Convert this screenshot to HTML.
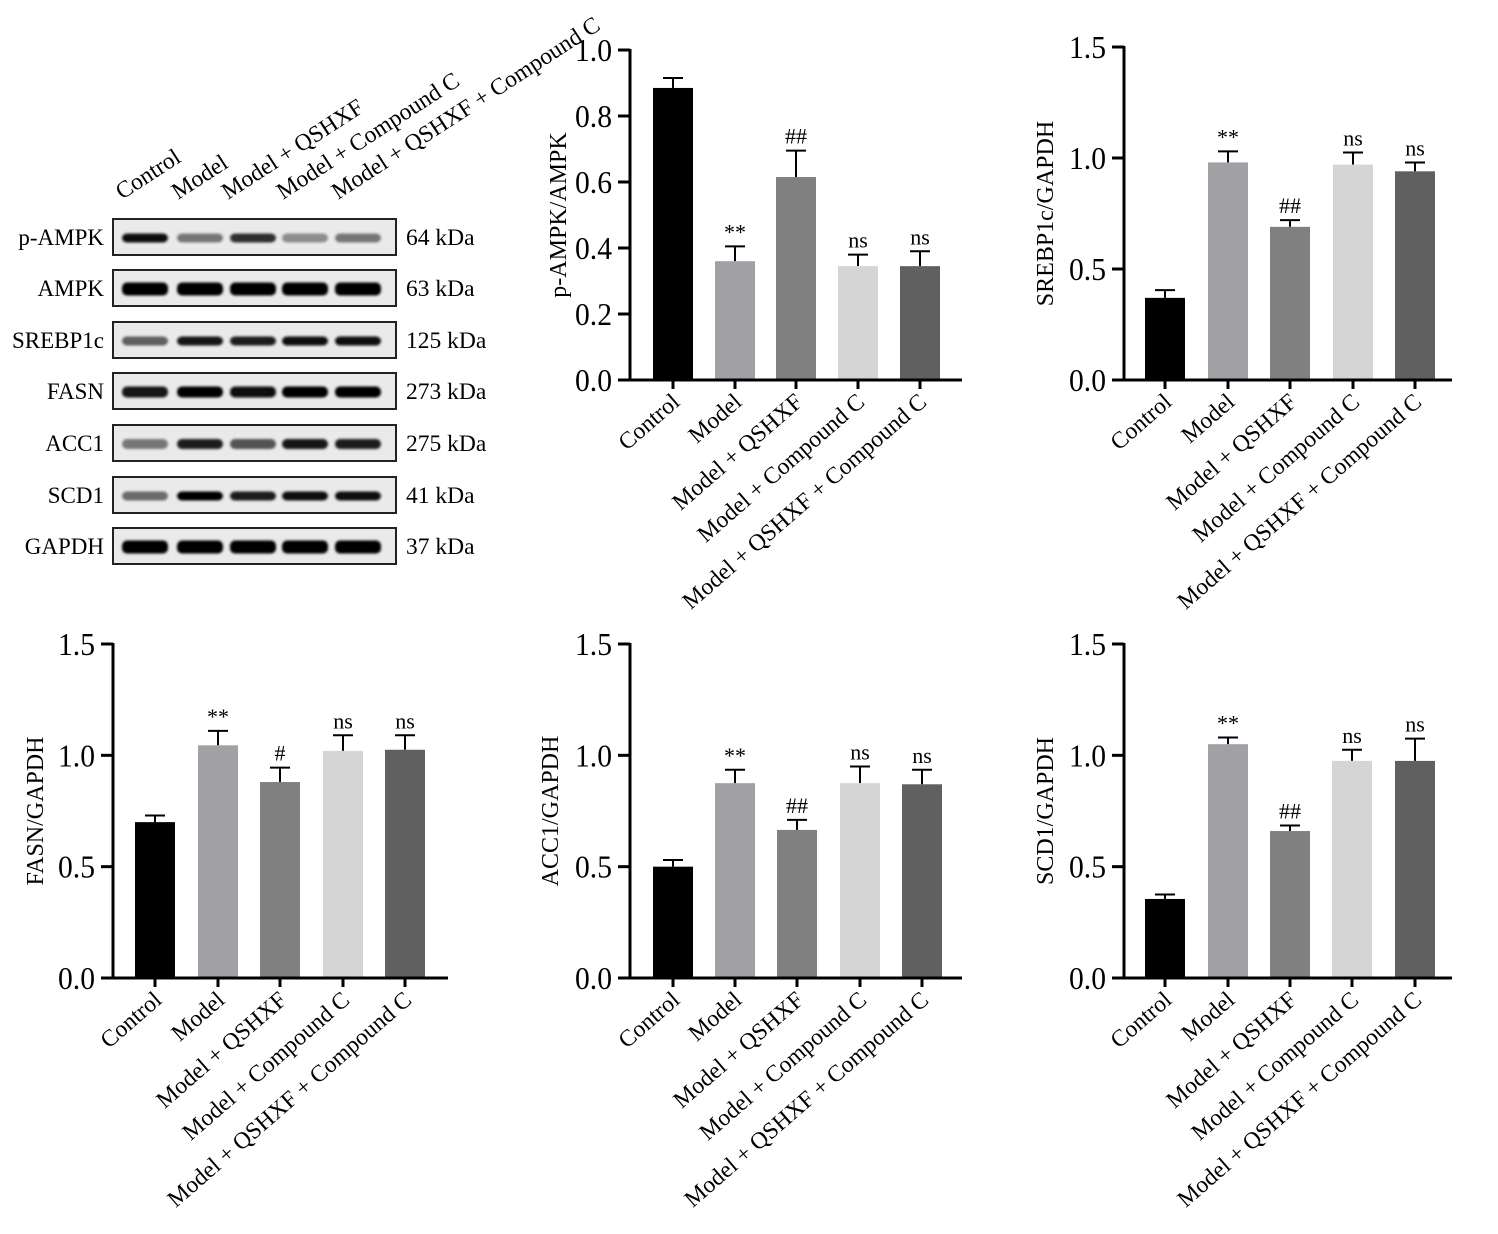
<!DOCTYPE html>
<html><head><meta charset="utf-8"><style>
html,body{margin:0;padding:0;background:#fff;}
svg{display:block;font-family:"Liberation Serif",serif;}
</style></head><body>
<svg id="s" width="1498" height="1234" viewBox="0 0 1498 1234" xmlns="http://www.w3.org/2000/svg">
<defs>
<filter id="bl" x="-20%" y="-50%" width="140%" height="200%"><feGaussianBlur stdDeviation="1.3"/></filter>
</defs>
<g id="wb"></g>
<g id="ch"></g>
</svg>
<script>
var NS="http://www.w3.org/2000/svg";
function el(p,t,a,txt){var e=document.createElementNS(NS,t);for(var k in a)e.setAttribute(k,a[k]);if(txt!==undefined)e.textContent=txt;p.appendChild(e);return e;}
var wb=document.getElementById('wb'), ch=document.getElementById('ch');
var groups=["Control","Model","Model + QSHXF","Model + Compound C","Model + QSHXF + Compound C"];
var hx=[122,178,228,283,338];
for(var i=0;i<5;i++){el(wb,'text',{x:hx[i],y:200,'font-size':23.5,transform:'rotate(-33 '+hx[i]+' 200)'},groups[i]);}
var rows=[["p-AMPK","64 kDa",219,[0.95,0.5,0.8,0.4,0.5],9],["AMPK","63 kDa",270,[1,1,1,1,1],13],["SREBP1c","125 kDa",322,[0.6,0.92,0.88,0.95,0.95],9],["FASN","273 kDa",373,[0.92,1,0.95,1,1],11],["ACC1","275 kDa",425,[0.5,0.88,0.65,0.92,0.88],10],["SCD1","41 kDa",477,[0.55,1,0.88,0.95,0.95],9],["GAPDH","37 kDa",528,[1,1,1,1,1],13]];
var lx=[145,200,253,305,358];
rows.forEach(function(r){
 var y=r[2];
 el(wb,'rect',{x:113,y:y,width:283,height:36,fill:'#eaeaea',stroke:'#222','stroke-width':2});
 for(var i=0;i<5;i++){
  var g=Math.round(235*(1-r[3][i]));
  el(wb,'rect',{x:lx[i]-23,y:y+19-r[4]/2,width:46,height:r[4],rx:5,fill:'rgb('+g+','+g+','+g+')',filter:'url(#bl)'});
 }
 el(wb,'text',{x:104,y:y+26,'font-size':23,'text-anchor':'end'},r[0]);
 el(wb,'text',{x:406,y:y+26,'font-size':23.5},r[1]);
});
var cols=["#000000","#a0a0a5","#808080","#d5d5d5","#606060"];
function chart(o){
 var ax=o.ax, y0=o.y0, y1=o.y1, max=o.max;
 var sc=function(v){return y0-(v/max)*(y0-y1);};
 var centers=o.cx;
 for(var i=0;i<5;i++){
  var v=o.v[i], e=o.e[i], c=centers[i];
  el(ch,'line',{x1:c,x2:c,y1:sc(v),y2:sc(v+e),stroke:'#000','stroke-width':2});
  el(ch,'line',{x1:c-10,x2:c+10,y1:sc(v+e),y2:sc(v+e),stroke:'#000','stroke-width':2});
  el(ch,'rect',{x:c-20,y:sc(v),width:40,height:y0-sc(v),fill:cols[i]});
  if(o.a[i])el(ch,'text',{x:c,y:sc(v+e)-7,'font-size':22,'text-anchor':'middle'},o.a[i]);
  el(ch,'line',{x1:c,x2:c,y1:y0,y2:y0+9,stroke:'#000','stroke-width':3});
  el(ch,'text',{x:c+8,y:y0+24,'font-size':23.5,'text-anchor':'end',transform:'rotate(-41 '+(c+8)+' '+(y0+24)+')'},groups[i]);
 }
 el(ch,'line',{x1:ax,x2:ax,y1:y1-1,y2:y0+1.5,stroke:'#000','stroke-width':3});
 el(ch,'line',{x1:ax-12,x2:o.xe,y1:y0,y2:y0,stroke:'#000','stroke-width':3});
 for(var t=0;t<o.ticks.length;t++){
  var tv=o.ticks[t], ty=sc(tv);
  el(ch,'line',{x1:ax-12,x2:ax,y1:ty,y2:ty,stroke:'#000','stroke-width':3});
  el(ch,'text',{x:ax-18,y:ty+11,'font-size':32,'text-anchor':'end',textLength:37,lengthAdjust:'spacingAndGlyphs'},tv.toFixed(1));
 }
 var ly=(y0+y1)/2;
 el(ch,'text',{x:o.lx,y:ly,'font-size':24,'text-anchor':'middle',transform:'rotate(-90 '+o.lx+' '+ly+')'},o.lab);
}
chart({ax:630,y0:380,y1:50,max:1.0,xe:962,cx:[673,735,796,858,920],ticks:[0,0.2,0.4,0.6,0.8,1.0],
 v:[0.885,0.36,0.615,0.345,0.345],e:[0.03,0.045,0.08,0.035,0.045],a:["","**","##","ns","ns"],lx:566,lab:"p-AMPK/AMPK"});
chart({ax:1124,y0:380,y1:47,max:1.5,xe:1452,cx:[1165,1228,1290,1353,1415],ticks:[0,0.5,1.0,1.5],
 v:[0.37,0.98,0.69,0.97,0.94],e:[0.035,0.05,0.03,0.055,0.04],a:["","**","##","ns","ns"],lx:1053,lab:"SREBP1c/GAPDH"});
chart({ax:113,y0:978,y1:644,max:1.5,xe:448,cx:[155,218,280,343,405],ticks:[0,0.5,1.0,1.5],
 v:[0.70,1.045,0.88,1.02,1.025],e:[0.03,0.065,0.065,0.07,0.065],a:["","**","#","ns","ns"],lx:43,lab:"FASN/GAPDH"});
chart({ax:630,y0:978,y1:644,max:1.5,xe:962,cx:[673,735,797,860,922],ticks:[0,0.5,1.0,1.5],
 v:[0.50,0.875,0.665,0.875,0.87],e:[0.03,0.06,0.045,0.075,0.065],a:["","**","##","ns","ns"],lx:558,lab:"ACC1/GAPDH"});
chart({ax:1124,y0:978,y1:644,max:1.5,xe:1452,cx:[1165,1228,1290,1352,1415],ticks:[0,0.5,1.0,1.5],
 v:[0.355,1.05,0.66,0.975,0.975],e:[0.02,0.03,0.025,0.05,0.1],a:["","**","##","ns","ns"],lx:1053,lab:"SCD1/GAPDH"});
</script>
</body></html>
